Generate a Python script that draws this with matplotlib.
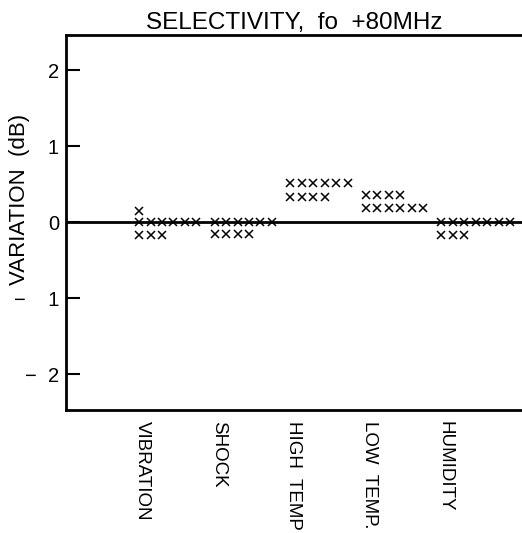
import matplotlib
matplotlib.use('Agg')
import matplotlib.pyplot as plt

plt.rcParams['font.family'] = ['Liberation Sans', 'DejaVu Sans']

# categories along the bottom
categories = ['VIBRATION', 'SHOCK', 'HIGH  TEMP', 'LOW  TEMP.', 'HUMIDITY']

# each test: row values (dB) and how many samples sit on that row
vibration_rows = [0.15, 0.0, -0.17]
vibration_counts = [1, 6, 3]
shock_rows = [0.0, -0.16]
shock_counts = [6, 4]
high_temp_rows = [0.51, 0.33]
high_temp_counts = [6, 4]
low_temp_rows = [0.36, 0.19]
low_temp_counts = [4, 6]
humidity_rows = [0.0, -0.17]
humidity_counts = [7, 3]

yticks = [-2, -1, 0, 1, 2]
yticklabels = ['\u2212  2', '\u2212    1', '0', '1', '2']

groups = [
    (vibration_rows, vibration_counts),
    (shock_rows, shock_counts),
    (high_temp_rows, high_temp_counts),
    (low_temp_rows, low_temp_counts),
    (humidity_rows, humidity_counts),
]

fig = plt.figure(figsize=(5.22, 5.33), dpi=100)
ax = fig.add_axes([0.1264, 0.2308, 0.8736, 0.7035])

step = 0.152
for i, (rows, counts) in enumerate(groups):
    gx = i + 1
    for val, n in zip(rows, counts):
        xs = [gx + k * step for k in range(n)]
        ax.plot(xs, [val] * n, linestyle='none', marker='x', ms=5.5,
                mew=1.1, color='black', zorder=3)

ax.axhline(0, color='black', lw=2, zorder=2)

ax.set_xlim(0.033, 6.07)
ax.set_ylim(-2.47, 2.46)

ax.set_xticks([])
ax.set_yticks(yticks)
ax.set_yticklabels(yticklabels, fontsize=14.5)
ax.tick_params(axis='y', direction='in', length=10, width=1.5, pad=5)

for side in ['left', 'top', 'bottom']:
    ax.spines[side].set_linewidth(2)
ax.spines['right'].set_visible(False)

for i, name in enumerate(categories):
    ax.text(i + 1.05, -2.62, name, rotation=270, ha='center', va='top',
            fontsize=13.5)

ax.set_title('SELECTIVITY,  fo  +80MHz', fontsize=17.5, pad=4)
fig.text(0.038, 0.625, 'VARIATION  (dB)', rotation=90, ha='center',
         va='center', fontsize=16)

fig.savefig('out.png', dpi=100)
